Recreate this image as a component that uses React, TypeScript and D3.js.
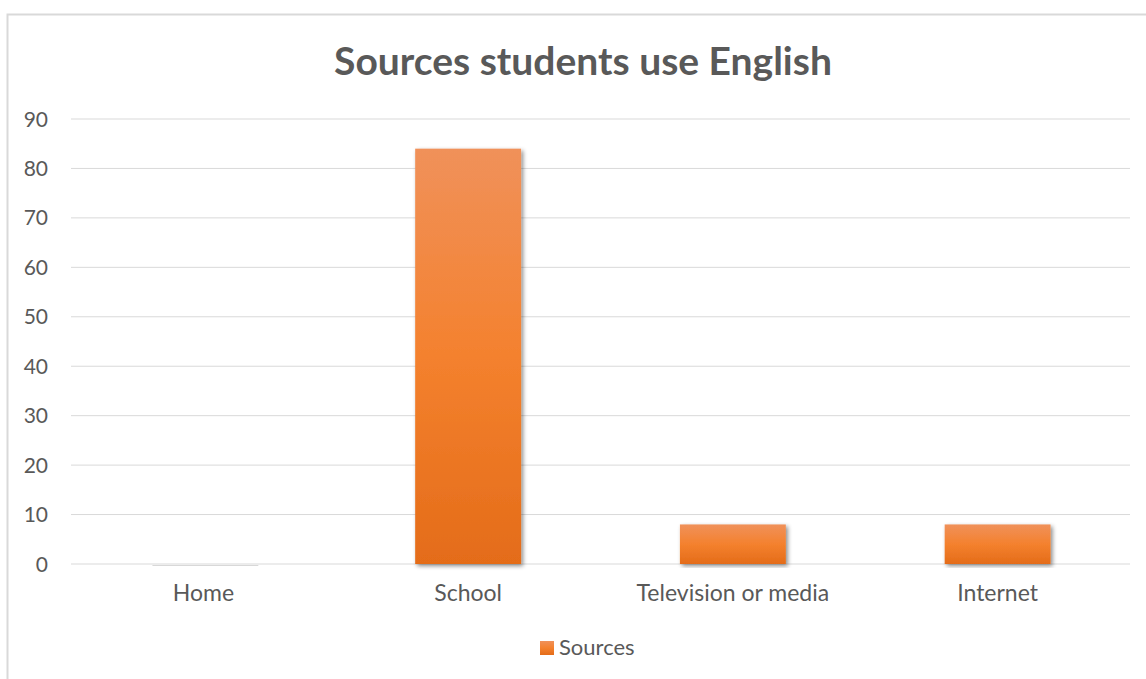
import React from "react";
import * as d3 from "d3";

const categories = ["Home", "School", "Television or media", "Internet"];
const values = [0, 84, 8, 8];
const yTicks = [0, 10, 20, 30, 40, 50, 60, 70, 80, 90];
const seriesName = "Sources";
const title = "Sources students use English";

const W = 1146;
const H = 679;
const FONT = "Lato, 'Open Sans', sans-serif";
const TEXT = "#595959";

export default function App() {
  const left = 71, right = 1130, top = 119, bottom = 564;
  const x = d3.scaleBand<string>().domain(categories).range([left, right]).paddingInner(0.6).paddingOuter(0.3);
  const y = d3.scaleLinear().domain([0, 90]).range([bottom, top]);

  return (
    <svg width={W} height={H} style={{ position: "absolute", left: 0, top: 0, background: "#fff" }}>
      <defs>
        <linearGradient id="barGrad" x1="0" y1="0" x2="0" y2="1">
          <stop offset="0" stopColor="#F0915A" />
          <stop offset="0.5" stopColor="#F4812E" />
          <stop offset="1" stopColor="#E46C19" />
        </linearGradient>
        <filter id="shadow" x="-20%" y="-5%" width="140%" height="115%">
          <feDropShadow dx="2" dy="2" stdDeviation="2.2" floodColor="#000" floodOpacity="0.45" />
        </filter>
      </defs>
      <rect x={7.5} y={14.5} width={W + 10} height={H + 10} fill="#fff" stroke="#D9D9D9" strokeWidth={2} />
      <text x={583} y={75} textAnchor="middle" fontFamily={FONT} fontWeight={700} fontSize={39} fill={TEXT}>
        {title}
      </text>
      {yTicks.map((t) => (
        <g key={t}>
          <line x1={left} x2={right} y1={y(t)} y2={y(t)} stroke="#D9D9D9" strokeWidth={1} />
          <text x={48} y={y(t)} dy="0.36em" textAnchor="end" fontFamily={FONT} fontSize={21} fill={TEXT}>
            {t}
          </text>
        </g>
      ))}
      {categories.map((c, i) => {
        const h = y(0) - y(values[i]);
        return (
          <g key={c}>
            {h > 0 ? (
              <rect x={x(c)} y={y(values[i])} width={x.bandwidth()} height={h} fill="url(#barGrad)" filter="url(#shadow)" />
            ) : (
              <line
                x1={(x(c) as number) + 2}
                x2={(x(c) as number) + x.bandwidth() + 2}
                y1={y(0) + 1.5}
                y2={y(0) + 1.5}
                stroke="#BFBFBF"
                strokeWidth={1}
                opacity={0.6}
              />
            )}
            <text x={(x(c) as number) + x.bandwidth() / 2} y={601} textAnchor="middle" fontFamily={FONT} fontSize={23} fill={TEXT}>
              {c}
            </text>
          </g>
        );
      })}
      <rect x={540} y={641} width={14} height={14} fill="url(#barGrad)" />
      <text x={559} y={655} fontFamily={FONT} fontSize={22} fill={TEXT}>
        {seriesName}
      </text>
    </svg>
  );
}
